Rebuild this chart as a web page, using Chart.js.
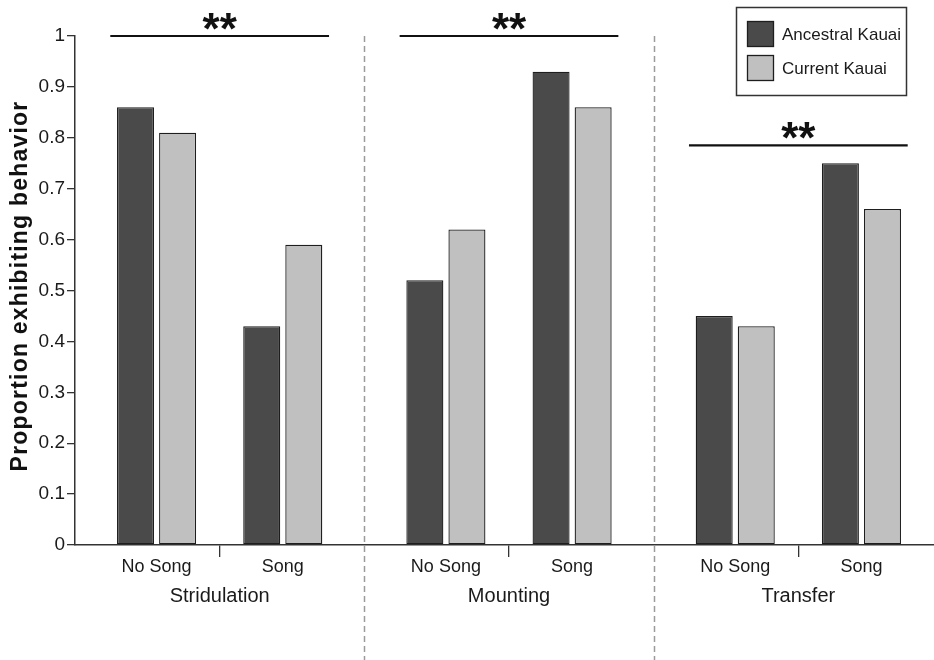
<!DOCTYPE html>
<html>
<head>
<meta charset="utf-8">
<script src="https://cdn.jsdelivr.net/npm/chart.js@4.4.1/dist/chart.umd.min.js"></script>
<style>
  html, body { margin: 0; padding: 0; background: #fff; overflow: hidden; }
</style>
</head>
<body>
<canvas id="myChart" width="943" height="660"></canvas>
<script>
const groups = ['Stridulation', 'Mounting', 'Transfer'];
const conditions = ['No Song', 'Song'];
const seriesNames = ['Ancestral Kauai', 'Current Kauai'];

const ancestralNoSong = [0.86, 0.52, 0.45];
const currentNoSong = [0.81, 0.62, 0.43];
const ancestralSong = [0.43, 0.93, 0.75];
const currentSong = [0.59, 0.86, 0.66];

const yTicks = [0, 0.1, 0.2, 0.3, 0.4, 0.5, 0.6, 0.7, 0.8, 0.9, 1];

const sigLevels = [1.0, 1.0, 0.785];
const sigMarks = ['**', '**', '**'];

const DARK = '#4a4a4a';
const LIGHT = '#c0c0c0';
const EDGE = '#1e1e1e';
const FONT = '"Liberation Sans", Arial, sans-serif';

const barStyle = (color) => ({
  backgroundColor: color,
  borderColor: EDGE,
  borderWidth: 1.3,
  borderSkipped: false,
});

// draws separators, significance bars, sub labels, legend and y title
const extras = {
  id: 'extras',
  afterDraw(chart) {
    const ctx = chart.ctx;
    const x = chart.scales.x;
    const y = chart.scales.y;
    const area = chart.chartArea;
    const step = x.getPixelForValue(1) - x.getPixelForValue(0);

    ctx.save();

    // dashed group separators
    ctx.strokeStyle = '#9a9a9a';
    ctx.lineWidth = 1.5;
    ctx.setLineDash([6, 4]);
    for (let i = 1; i < groups.length; i++) {
      const sx = Math.round((x.getPixelForValue(i - 1) + x.getPixelForValue(i)) / 2) + 0.5;
      ctx.beginPath();
      ctx.moveTo(sx, area.top);
      ctx.lineTo(sx, chart.height);
      ctx.stroke();
    }
    ctx.setLineDash([]);

    // significance lines and stars
    ctx.strokeStyle = '#111';
    ctx.fillStyle = '#111';
    ctx.lineWidth = 2.2;
    ctx.textAlign = 'center';
    ctx.textBaseline = 'alphabetic';
    ctx.font = 'bold 44px ' + FONT;
    groups.forEach((g, i) => {
      const cx = x.getPixelForValue(i);
      const ly = y.getPixelForValue(sigLevels[i]);
      ctx.beginPath();
      ctx.moveTo(cx - step * 0.378, ly);
      ctx.lineTo(cx + step * 0.378, ly);
      ctx.stroke();
      ctx.fillText(sigMarks[i], cx, ly + 8);
    });

    // condition labels under each bar pair
    const m = (k) => chart.getDatasetMeta(k).data;
    ctx.fillStyle = '#1a1a1a';
    ctx.font = '18px ' + FONT;
    groups.forEach((g, i) => {
      const noSongX = (m(0)[i].x + m(1)[i].x) / 2;
      const songX = (m(3)[i].x + m(4)[i].x) / 2;
      ctx.fillText(conditions[0], noSongX, area.bottom + 27);
      ctx.fillText(conditions[1], songX, area.bottom + 27);
    });

    // legend
    const lx = 736, ly = 7, lw = 170, lh = 88;
    ctx.strokeStyle = '#333';
    ctx.lineWidth = 1.5;
    ctx.strokeRect(lx + 0.5, ly + 0.5, lw, lh);
    [DARK, LIGHT].forEach((c, k) => {
      const sy = ly + 14 + k * 34;
      ctx.fillStyle = c;
      ctx.fillRect(lx + 11, sy, 27, 26);
      ctx.strokeStyle = EDGE;
      ctx.lineWidth = 1.3;
      ctx.strokeRect(lx + 11.5, sy + 0.5, 26, 25);
      ctx.fillStyle = '#1a1a1a';
      ctx.font = '17px ' + FONT;
      ctx.textAlign = 'left';
      ctx.textBaseline = 'middle';
      ctx.fillText(seriesNames[k], lx + 46, sy + 14);
    });

    // y axis title
    ctx.translate(27, 286);
    ctx.rotate(-Math.PI / 2);
    ctx.fillStyle = '#111';
    ctx.font = 'bold 23px ' + FONT;
    ctx.letterSpacing = '1.2px';
    ctx.textAlign = 'center';
    ctx.textBaseline = 'alphabetic';
    ctx.fillText('Proportion exhibiting behavior', 0, 0);

    ctx.restore();
  }
};

const ctx = document.getElementById('myChart').getContext('2d');
new Chart(ctx, {
  type: 'bar',
  data: {
    labels: groups,
    datasets: [
      { label: seriesNames[0], data: ancestralNoSong, ...barStyle(DARK) },
      { label: seriesNames[1], data: currentNoSong, ...barStyle(LIGHT) },
      { label: '', data: groups.map(() => null) },
      { label: seriesNames[0], data: ancestralSong, ...barStyle(DARK) },
      { label: seriesNames[1], data: currentSong, ...barStyle(LIGHT) },
    ],
  },
  options: {
    responsive: false,
    animation: false,
    devicePixelRatio: 1,
    categoryPercentage: 0.727,
    barPercentage: 0.88,
    layout: { padding: { top: 36, right: 0, left: 0, bottom: 0 } },
    scales: {
      x: {
        grid: { offset: false, drawOnChartArea: false, tickLength: 12, color: '#333', lineWidth: 1.3 },
        border: { color: '#333', width: 1.5 },
        ticks: { font: { size: 20, family: FONT }, color: '#1a1a1a', padding: 27 },
        afterFit: (scale) => { scale.height = 115; },
      },
      y: {
        min: 0,
        max: 1,
        afterBuildTicks: (scale) => { scale.ticks = yTicks.map((v) => ({ value: v })); },
        grid: { drawOnChartArea: false, tickLength: 8, color: '#333', lineWidth: 1.3 },
        border: { color: '#333', width: 1.5 },
        ticks: {
          font: { size: 19, family: FONT },
          color: '#1a1a1a',
          padding: 2,
          callback: (v) => String(Number(v.toFixed(1))),
        },
        afterFit: (scale) => { scale.width = 75; },
      },
    },
    plugins: {
      legend: { display: false },
      tooltip: { enabled: false },
    },
  },
  plugins: [extras],
});
</script>
</body>
</html>
